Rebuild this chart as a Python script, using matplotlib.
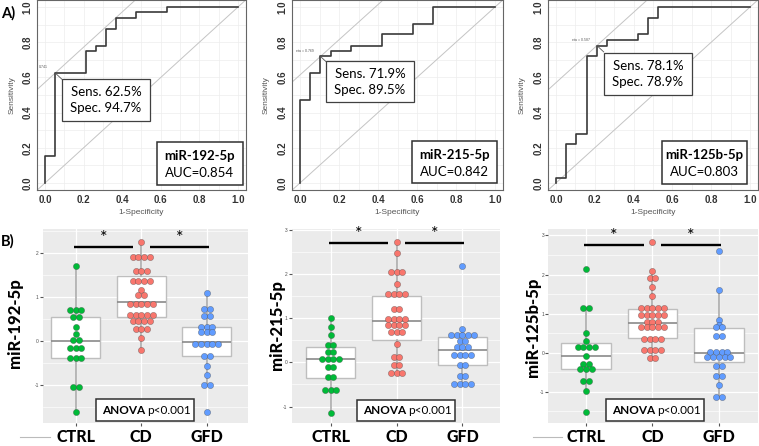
import numpy as np
import matplotlib
matplotlib.use("Agg")
import matplotlib.pyplot as plt
import matplotlib.transforms as mtransforms
from matplotlib.patches import Rectangle
from collections import Counter

plt.rcParams['font.family'] = ['Lato', 'DejaVu Sans']

W, H = 759, 446

# ---------------- A) ROC curves ----------------
mirnas = ["miR-192-5p", "miR-215-5p", "miR-125b-5p"]
auc = [0.854, 0.842, 0.803]
sens = [62.5, 71.9, 78.1]
spec = [94.7, 89.5, 78.9]
thresholds = ["0.741", "eta = 0.769", "eta = 0.587"]

# step corners (1-specificity, sensitivity)
roc_fpr_192 = [0, 0.053, 0.211, 0.263, 0.316, 0.368, 0.474, 0.632, 1.0]
roc_tpr_192 = [0, 0.156, 0.625, 0.750, 0.781, 0.875, 0.938, 0.969, 1.0]
roc_fpr_215 = [0, 0.053, 0.105, 0.158, 0.263, 0.421, 0.579, 0.684, 1.0]
roc_tpr_215 = [0, 0.469, 0.625, 0.719, 0.750, 0.781, 0.844, 0.906, 1.0]
roc_fpr_125 = [0, 0.053, 0.105, 0.158, 0.211, 0.263, 0.421, 0.474, 0.526, 1.0]
roc_tpr_125 = [0, 0.031, 0.219, 0.281, 0.719, 0.781, 0.813, 0.844, 0.938, 1.0]

# ---------------- B) expression by group ----------------
groups = ["CTRL", "CD", "GFD"]
group_colors = ["#00BA38", "#F8766D", "#619CFF"]

ctrl_192 = [1.71, 0.71, 0.71, 0.71, 0.54, 0.54, 0.31, 0.16, 0.02, 0.02,
            -0.16, -0.16, -0.16, -0.39, -0.39, -0.39, -1.05, -1.05, -1.61]
cd_192 = [2.25, 1.90, 1.90, 1.90, 1.90, 1.60, 1.60, 1.60, 1.37, 1.37, 1.37, 1.37,
          1.16, 1.05, 1.05, 0.83, 0.83, 0.83, 0.83, 0.83, 0.60, 0.60, 0.60, 0.60, 0.60,
          0.45, 0.45, 0.45, 0.45, 0.27, 0.27, 0.27, 0.07, -0.20]
gfd_192 = [1.08, 0.73, 0.73, 0.57, 0.57, 0.325, 0.325, 0.325, 0.20, 0.20, 0.20,
           -0.07, -0.07, -0.07, -0.07, -0.07, -0.33, -0.33, -0.56, -0.77, -0.99, -0.99, -1.61]

ctrl_215 = [1.00, 0.80, 0.61, 0.40, 0.40, 0.23, 0.23, 0.08, 0.08, 0.08, 0.08,
            -0.11, -0.11, -0.34, -0.34, -0.62, -0.62, -0.62, -1.15]
cd_215 = [2.72, 2.47, 2.04, 2.04, 2.04, 1.77, 1.55, 1.55, 1.55, 1.55, 1.21, 1.21,
          0.99, 0.99, 0.99, 0.99, 0.85, 0.85, 0.85, 0.85, 0.69, 0.69, 0.69, 0.41,
          0.12, 0.12, -0.05, -0.05, -0.24, -0.24, -0.24]
gfd_215 = [2.19, 0.75, 0.62, 0.62, 0.62, 0.62, 0.62, 0.475, 0.475, 0.34, 0.34, 0.34,
           0.17, 0.17, 0.17, 0.17, -0.05, -0.05, -0.32, -0.32, -0.50, -0.50, -0.50, -0.50]

ctrl_125 = [2.15, 1.14, 1.14, 0.51, 0.31, 0.15, 0.15, 0.15, 0.15, -0.07, -0.28, -0.28,
            -0.41, -0.41, -0.41, -0.73, -0.73, -0.98, -1.51]
cd_125 = [2.83, 2.08, 1.91, 1.91, 1.69, 1.46, 1.15, 1.15, 1.15, 1.15, 1.15,
          0.96, 0.96, 0.96, 0.96, 0.96, 0.78, 0.78, 0.78, 0.66, 0.66, 0.66, 0.66, 0.66,
          0.35, 0.35, 0.35, 0.35, 0.08, 0.08, 0.08, 0.08, -0.13, -0.13]
gfd_125 = [2.60, 1.60, 0.85, 0.72, 0.65, 0.65, 0.44, 0.44, 0.01, 0.01, 0.01, 0.01,
           -0.12, -0.12, -0.12, -0.12, -0.12, -0.35, -0.35, -0.59, -0.59, -0.82, -1.13, -1.13]

# box statistics per group (CTRL, CD, GFD)
q1_192 = [-0.39, 0.55, -0.34]
med_192 = [0.007, 0.89, -0.015]
q3_192 = [0.54, 1.47, 0.325]
wlo_192 = [-1.61, -0.20, -0.99]
whi_192 = [1.71, 2.25, 1.08]

q1_215 = [-0.355, 0.505, -0.06]
med_215 = [0.075, 0.934, 0.28]
q3_215 = [0.353, 1.50, 0.58]
wlo_215 = [-1.15, -0.24, -0.50]
whi_215 = [1.00, 2.72, 0.75]

q1_125 = [-0.42, 0.39, -0.24]
med_125 = [-0.07, 0.75, -0.01]
q3_125 = [0.24, 1.11, 0.63]
wlo_125 = [-0.98, -0.13, -1.13]
whi_125 = [1.14, 2.08, 1.60]

anova_p = ["p<0.001", "p<0.001", "p<0.001"]

fig = plt.figure(figsize=(W / 100, H / 100), dpi=100)


def px_axes(x0, y0, x1, y1):
    return fig.add_axes([x0 / W, 1 - y1 / H, (x1 - x0) / W, (y1 - y0) / H])


# overlay for boxes / labels in pixel coordinates
ov = fig.add_axes([0, 0, 1, 1], zorder=20)
ov.set_xlim(0, W)
ov.set_ylim(H, 0)
ov.axis("off")

# ---- ROC panels ----
roc_fpr = [roc_fpr_192, roc_fpr_215, roc_fpr_125]
roc_tpr = [roc_tpr_192, roc_tpr_215, roc_tpr_125]
roc_pos = [(37.3, 0, 245.7, 190), (292.2, 0, 502.8, 190), (548.2, 0, 757.8, 190)]
sens_box = [(62, 79, 150, 121), (326, 61, 414, 102), (604, 53, 692, 95)]
auc_box = [(157, 142, 243, 185), (412, 141, 497, 183), (662, 141, 747, 184)]
tick_font = dict(family=['Liberation Sans', 'DejaVu Sans'], size=7, weight='bold')

for i in range(3):
    ax = px_axes(*roc_pos[i])
    ax.set_xlim(-0.04, 1.04)
    ax.set_ylim(-0.04, 1.04)
    ticks = np.arange(0, 1.01, 0.2)
    ax.set_xticks(ticks)
    ax.set_yticks(ticks)
    ax.set_xticks(np.arange(0, 1.01, 0.1), minor=True)
    ax.set_yticks(np.arange(0, 1.01, 0.1), minor=True)
    ax.set_xticklabels(["%.1f" % t for t in ticks], fontdict=tick_font, color="#333333")
    ax.set_yticklabels(["%.1f" % t for t in ticks], fontdict=tick_font, color="#333333",
                       rotation=90, va="center")
    ax.tick_params(which="both", length=0, pad=3.5)
    ax.grid(which="both", color="#EDEDED", lw=0.5)
    ax.set_axisbelow(True)
    for s in ax.spines.values():
        s.set_color("#666666")
        s.set_linewidth(0.8)
    ax.axline((0, 0), (1, 1), color="#C4C4C4", lw=0.7)
    fx, fy = 1 - spec[i] / 100, sens[i] / 100
    ax.axline((fx, fy), slope=1, color="#C4C4C4", lw=0.7)
    ax.step(roc_fpr[i], roc_tpr[i], where="pre", color="#3A3A3A", lw=1.2)
    ax.plot([fx, fx + 0.035], [fy, fy - 0.036], color="#555555", lw=0.6)
    ax.text(fx - 0.036, fy + 0.032, thresholds[i], fontsize=2.5, ha="right",
            va="center", color="#555555", family=['Liberation Sans'])
    ax.text(0.5, -0.121, "1-Specificity", transform=ax.transAxes, ha="center",
            va="center", fontsize=6, color="#555555", family=['Liberation Sans'])
    ax.text(-0.122, 0.5, "Sensitivity", transform=ax.transAxes, ha="center",
            va="center", rotation=90, fontsize=6, color="#555555", family=['Liberation Sans'])

    x0, y0, x1, y1 = sens_box[i]
    ov.add_patch(Rectangle((x0, y0), x1 - x0, y1 - y0, facecolor="white",
                           edgecolor="#404040", lw=0.9))
    ov.text((x0 + x1) / 2, y0 + 12.7, "Sens. %.1f%%" % sens[i], ha="center", va="center", fontsize=9.5)
    ov.text((x0 + x1) / 2, y0 + 29.3, "Spec. %.1f%%" % spec[i], ha="center", va="center", fontsize=9.5)

    x0, y0, x1, y1 = auc_box[i]
    ov.add_patch(Rectangle((x0, y0), x1 - x0, y1 - y0, facecolor="white",
                           edgecolor="#303030", lw=1.1))
    ov.text((x0 + x1) / 2, y0 + 14, mirnas[i], ha="center", va="center",
            fontsize=9.5, weight="bold")
    ov.text((x0 + x1) / 2, y0 + 31, "AUC=%.3f" % auc[i], ha="center", va="center", fontsize=9.5)

# ---- box / dot panels ----
values = [[ctrl_192, cd_192, gfd_192], [ctrl_215, cd_215, gfd_215], [ctrl_125, cd_125, gfd_125]]
q1s = [q1_192, q1_215, q1_125]
meds = [med_192, med_215, med_125]
q3s = [q3_192, q3_215, q3_125]
wlos = [wlo_192, wlo_215, wlo_125]
whis = [whi_192, whi_215, whi_125]

box_pos = [(43, 229, 248, 423), (291.7, 229, 500, 423), (548.3, 229, 758, 423)]
xlims = [(0.50, 3.63), (0.41, 3.57), (0.43, 3.59)]
ylims = [(-1.864, 2.545), (-1.373, 3.02), (-1.795, 3.166)]
sig_y = [2.14, 2.71, 2.76]
ylab_pos = [(15, 323.5), (276.7, 325), (533, 327)]
anova_box = [(96, 399, 194, 421), (356.7, 399.7, 455, 421.3), (605.7, 399, 704, 421)]

for i in range(3):
    ax = px_axes(*box_pos[i])
    ax.set_facecolor("#EBEBEB")
    for s in ax.spines.values():
        s.set_visible(False)

    stats = []
    for g in range(3):
        stats.append(dict(med=meds[i][g], q1=q1s[i][g], q3=q3s[i][g],
                          whislo=wlos[i][g], whishi=whis[i][g], fliers=[]))
    ax.bxp(stats, positions=[1, 2, 3], widths=0.75, patch_artist=True,
           showfliers=False, showcaps=False, manage_ticks=False,
           boxprops=dict(facecolor="white", edgecolor="#BEBEBE", lw=1.0),
           medianprops=dict(color="#8A8A8A", lw=1.2),
           whiskerprops=dict(color="#ACACAC", lw=1.2))

    ppu = (box_pos[i][2] - box_pos[i][0]) / (xlims[i][1] - xlims[i][0])
    d = 5.7 / ppu
    for g in range(3):
        vals = values[i][g]
        counts = Counter(vals)
        xs, ys = [], []
        for v, n in counts.items():
            for k in range(n):
                xs.append(g + 1 + (k - (n - 1) / 2) * d)
                ys.append(v)
        ax.scatter(xs, ys, s=20, color=group_colors[g], edgecolors=(0.25, 0.25, 0.25, 0.55),
                   linewidths=0.4, zorder=3)

    for a, b in [(0.97, 1.87), (2.13, 3.03)]:
        ax.plot([a, b], [sig_y[i], sig_y[i]], color="black", lw=1.7, solid_capstyle="butt")
        ax.annotate("*", ((a + b) / 2, sig_y[i]), xytext=(0, 0.5), textcoords="offset points",
                    ha="center", va="bottom", fontsize=13)

    ax.set_xlim(*xlims[i])
    ax.set_ylim(*ylims[i])
    lo, hi = ylims[i]
    yt = np.arange(np.ceil(lo), np.floor(hi) + 1)
    ax.set_yticks(yt)
    ax.set_yticks(np.arange(np.ceil(lo * 2) / 2, hi, 0.5), minor=True)
    ax.set_yticklabels(["%d" % t for t in yt], fontsize=3.5, color="#4D4D4D",
                       family=['Liberation Sans'])
    ax.set_xticks([1, 2, 3])
    ax.set_xticklabels([])
    ax.tick_params(axis="x", length=2, color="#555555")
    ax.tick_params(axis="y", which="major", length=2, color="#555555", pad=1)
    ax.tick_params(axis="y", which="minor", length=0)
    ax.grid(which="major", color="white", lw=0.9)
    ax.grid(which="minor", axis="y", color="white", lw=0.45)
    ax.set_axisbelow(True)

    # group names under each category, baseline near the bottom edge
    trans = mtransforms.blended_transform_factory(ax.transData, fig.transFigure)
    for g in range(3):
        ax.text(g + 1, 1 - 442.5 / H, groups[g], transform=trans, ha="center",
                va="baseline", fontsize=11.5, fontweight=900, color="black")

    fig.text(ylab_pos[i][0] / W, 1 - ylab_pos[i][1] / H, mirnas[i], rotation=90,
             ha="center", va="center", fontsize=12, fontweight=900)

    x0, y0, x1, y1 = anova_box[i]
    ov.add_patch(Rectangle((x0, y0), x1 - x0, y1 - y0, facecolor="white",
                           edgecolor="#303030", lw=1.1))
    ov.text(x0 + 49.3, (y0 + y1) / 2, "ANOVA", ha="right", va="center", fontsize=8.5, weight="bold")
    ov.text(x0 + 51.5, (y0 + y1) / 2, anova_p[i], ha="left", va="center", fontsize=8.5)

# panel letters and stray legend strokes
ov.text(1, 13, "A)", ha="left", va="center", fontsize=10.5, weight="bold")
ov.text(1, 241, "B)", ha="left", va="center", fontsize=10.5, weight="bold")
ov.plot([20, 50], [437, 437], color="#BBBBBB", lw=0.8)
ov.plot([533, 562], [437, 437], color="#BBBBBB", lw=0.8)

fig.savefig("out.png", dpi=100)
